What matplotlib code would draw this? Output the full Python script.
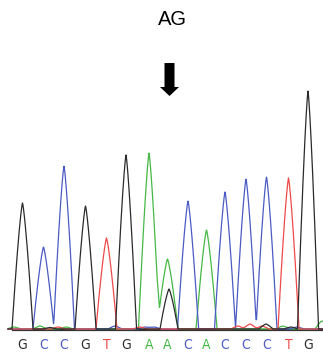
import numpy as np
import matplotlib.pyplot as plt
from matplotlib.patches import FancyArrow

# called bases and main peak positions (scan units) and heights
bases = ['G', 'C', 'C', 'G', 'T', 'G', 'A', 'A', 'C', 'A', 'C', 'C', 'C', 'T', 'G']
peak_x = [22.5, 43.5, 64, 85.5, 106.5, 126, 149, 167.5, 188, 206.5, 225, 246, 266.5, 288.5, 308]
peak_h = [126, 82, 163, 123, 91, 174, 176, 70, 128, 99, 137, 150, 152, 151, 238]

# secondary / background peaks: (base, position, height)
minor_peaks = [
    ('G', 169, 40),
    ('A', 14, 2), ('A', 40, 3), ('T', 58, 2), ('A', 66, 2), ('G', 50, 1.5),
    ('C', 115, 3), ('C', 145, 2), ('C', 154, 2), ('T', 140, 2),
    ('T', 238, 3), ('T', 250, 5), ('T', 262, 3), ('G', 266, 5),
    ('A', 283, 3), ('G', 291, 2), ('C', 297, 2), ('A', 322, 8),
]

colors = {'G': '#2b2b2b', 'C': '#4a5bc4', 'T': '#ee4a4a', 'A': '#45b845'}


def peak(x, center, height, half_width):
    d = np.clip(np.abs(x - center) / half_width, 0, 1)
    return height * (1 - d ** 1.3)


x = np.linspace(8, 323, 2000)
traces = {b: np.zeros_like(x) for b in 'GCTA'}
for b, px, h in zip(bases, peak_x, peak_h):
    traces[b] += peak(x, px, h, 10.5)
for b, px, h in minor_peaks:
    traces[b] += peak(x, px, h, 9 if h > 20 else 7)

fig = plt.figure(figsize=(3.23, 3.53), dpi=100)
ax = fig.add_axes([0, 0, 1, 1])
ax.set_xlim(0, 323)
ax.set_ylim(-23, 330)
ax.axis('off')

ax.axhline(0, xmin=13 / 323, xmax=1, color='#333333', lw=1.6, zorder=1)
for b in ['A', 'C', 'T', 'G']:
    ax.plot(x, traces[b] + 1, color=colors[b], lw=0.9, zorder=2)

for b, px in zip(bases, peak_x):
    ax.text(px, -15, b, color=colors[b], fontsize=10, ha='center', va='center',
            family='DejaVu Sans', fontstretch='condensed')

ax.text(172, 310.5, 'AG', fontsize=14.5, ha='center', va='center', family='Liberation Sans')
ax.add_patch(FancyArrow(169.5, 267, 0, -33, width=10, head_width=19, head_length=9,
                        length_includes_head=True, color='black', lw=0))

fig.savefig('out.png', dpi=100)
